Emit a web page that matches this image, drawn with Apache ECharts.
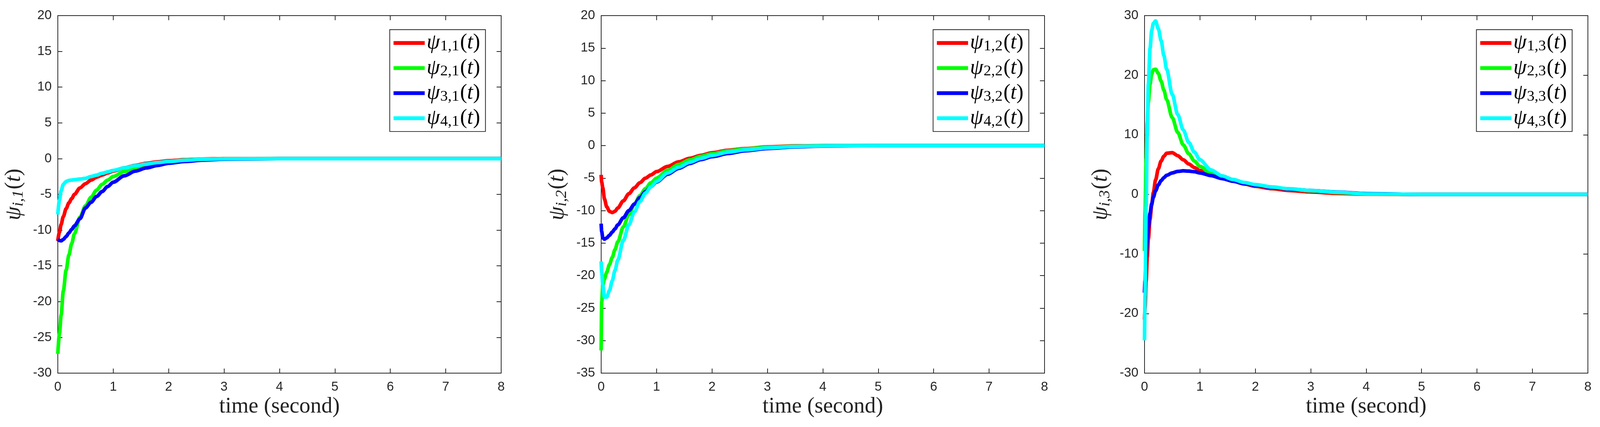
<!DOCTYPE html>
<html>
<head>
<meta charset="utf-8">
<script src="https://cdn.jsdelivr.net/npm/echarts@6/dist/echarts.min.js"></script>
<style>
  html, body { margin: 0; padding: 0; background: #fff; overflow: hidden; width: 100%; height: 100%; }
  #main { width: 100vw; height: 100vh; }
</style>
</head>
<body>
<div id="main"></div>
<script>
'use strict';
// values
var xTicks = [0, 1, 2, 3, 4, 5, 6, 7, 8];

var t1 = [0, 0.03, 0.06, 0.1, 0.15, 0.2, 0.25, 0.3, 0.4, 0.5, 0.6, 0.7, 0.8, 0.9, 1.0, 1.2, 1.4, 1.6, 1.8, 2.0, 2.3, 2.6, 3.0, 4, 5, 6, 7, 8];
var psi11 = [-11.5, -10.3, -9.2, -8.1, -7.0, -6.2, -5.6, -5.0, -4.1, -3.5, -3.0, -2.6, -2.3, -2.0, -1.75, -1.3, -0.95, -0.65, -0.45, -0.3, -0.15, -0.06, 0, 0, 0, 0, 0, 0];
var psi21 = [-27.3, -24.5, -21.9, -18.5, -15.6, -13.5, -11.9, -10.5, -8.2, -6.6, -5.4, -4.4, -3.6, -3.0, -2.5, -1.8, -1.25, -0.9, -0.6, -0.4, -0.2, -0.1, -0.02, 0, 0, 0, 0, 0];
var psi31 = [-11.3, -11.45, -11.5, -11.3, -10.9, -10.4, -9.9, -9.4, -8.4, -6.9, -6.1, -5.3, -4.6, -3.9, -3.3, -2.4, -1.75, -1.3, -0.95, -0.65, -0.4, -0.22, -0.08, 0, 0, 0, 0, 0];
var psi41 = [-7.8, -5.8, -4.5, -3.6, -3.2, -3.05, -3.0, -2.95, -2.85, -2.75, -2.5, -2.3, -2.05, -1.85, -1.65, -1.3, -1.0, -0.75, -0.55, -0.4, -0.22, -0.1, -0.03, 0, 0, 0, 0, 0];

var t2 = [0, 0.01, 0.03, 0.06, 0.1, 0.15, 0.2, 0.25, 0.3, 0.4, 0.5, 0.6, 0.7, 0.8, 0.9, 1.0, 1.2, 1.4, 1.6, 1.8, 2.0, 2.3, 2.6, 3.0, 3.5, 4, 5, 6, 7, 8];
var psi12 = [-4.5, -5.6, -6.5, -8.2, -9.4, -10.1, -10.3, -10.1, -9.6, -8.5, -7.4, -6.5, -5.7, -5.0, -4.5, -4.0, -3.2, -2.5, -1.95, -1.5, -1.1, -0.7, -0.45, -0.2, -0.05, 0, 0, 0, 0, 0];
var psi22 = [-31.5, -24.0, -21.5, -20.5, -19.5, -18.3, -17.2, -16.0, -14.8, -12.5, -10.6, -9.0, -7.7, -6.6, -5.7, -5.0, -3.8, -2.9, -2.2, -1.65, -1.25, -0.8, -0.5, -0.25, -0.1, -0.02, 0, 0, 0, 0];
var psi32 = [-12.0, -13.2, -14.2, -14.4, -14.2, -13.8, -13.3, -12.8, -12.2, -11.1, -10.0, -9.0, -8.0, -7.1, -6.3, -5.6, -4.4, -3.5, -2.75, -2.15, -1.7, -1.2, -0.8, -0.45, -0.2, -0.07, 0, 0, 0, 0];
var psi42 = [-17.8, -19.5, -21.5, -23.3, -23.3, -22.3, -20.8, -19.2, -17.6, -14.6, -12.2, -10.2, -8.6, -7.3, -6.3, -5.5, -4.2, -3.3, -2.55, -1.95, -1.5, -1.0, -0.65, -0.35, -0.13, -0.04, 0, 0, 0, 0];

var t3 = [0, 0.01, 0.03, 0.05, 0.07, 0.1, 0.13, 0.16, 0.2, 0.25, 0.3, 0.35, 0.4, 0.5, 0.6, 0.7, 0.8, 0.9, 1.0, 1.2, 1.4, 1.6, 1.8, 2.0, 2.3, 2.6, 3.0, 3.5, 4, 5, 6, 7, 8];
var psi13 = [-21, -19, -14.5, -10.5, -7.5, -4.2, -1.8, 0.3, 2.4, 4.3, 5.6, 6.4, 6.9, 7.0, 6.5, 5.8, 5.1, 4.5, 4.0, 3.3, 2.7, 2.2, 1.75, 1.35, 0.95, 0.65, 0.4, 0.15, 0.02, 0, 0, 0, 0];
var psi23 = [-9.5, -3, 6, 12, 15.5, 18.5, 20.2, 20.9, 21.0, 20.3, 19.0, 17.5, 15.9, 12.9, 10.4, 8.3, 6.8, 5.6, 4.7, 3.5, 2.8, 2.3, 1.95, 1.6, 1.2, 0.9, 0.6, 0.3, 0.05, 0, 0, 0, 0];
var psi33 = [-16.5, -14.5, -10.5, -7.5, -5.5, -3.2, -1.6, -0.5, 0.6, 1.6, 2.3, 2.8, 3.2, 3.6, 3.85, 3.95, 3.9, 3.8, 3.6, 3.15, 2.65, 2.2, 1.8, 1.5, 1.15, 0.9, 0.65, 0.38, 0.12, 0, 0, 0, 0];
var psi43 = [-24.5, -17, -2, 10, 18.5, 24.5, 27.5, 28.7, 29.1, 27.8, 25.8, 23.3, 21.0, 16.8, 13.4, 10.8, 8.7, 7.1, 5.8, 4.1, 3.1, 2.5, 2.0, 1.65, 1.25, 0.95, 0.65, 0.35, 0.08, 0, 0, 0, 0];

var yMin = [-30, -35, -30];
var yMax = [20, 20, 30];
var yStep = [5, 5, 10];

var colors = ['#ff0000', '#00ff00', '#0000ff', '#00ffff'];
var panels = [
  {t: t1, vals: [psi11, psi21, psi31, psi41], j: 1},
  {t: t2, vals: [psi12, psi22, psi32, psi42], j: 2},
  {t: t3, vals: [psi13, psi23, psi33, psi43], j: 3}
];

var axisColor = '#262626';
var tickFont = 'Liberation Sans, Arial, sans-serif';
var mathFont = 'Liberation Serif, DejaVu Serif, serif';

function zip(t, v) {
  var out = [];
  for (var i = 0; i < t.length; i++) {
    out.push([t[i], v[i]]);
  }
  return out;
}

var chart = echarts.init(document.getElementById('main'), null, {renderer: 'canvas'});

function buildOption() {
  // layout designed on a 4208 x 1094 page, scaled to whatever the page really is
  var W = chart.getWidth(), H = chart.getHeight();
  var sx = W / 4208, sy = H / 1094, f = Math.min(sx, sy);
  var gridLeft = [152, 1581, 3010];
  var gridTop = 40, gridW = 1166, gridH = 916;

  var mathRich = {
    a: {fontFamily: mathFont, fontSize: 56 * f, fontStyle: 'italic', color: '#000'},
    p: {fontFamily: mathFont, fontSize: 56 * f, color: '#000'},
    s: {fontFamily: mathFont, fontSize: 40 * f, color: '#000', verticalAlign: 'bottom', padding: [24 * f, 2 * f, 0, 1 * f]}
  };
  var nameRich = {
    a: {fontFamily: mathFont, fontSize: 58 * f, fontStyle: 'italic', color: '#222'},
    p: {fontFamily: mathFont, fontSize: 58 * f, color: '#222'},
    s: {fontFamily: mathFont, fontSize: 42 * f, color: '#222', fontStyle: 'italic', verticalAlign: 'bottom', padding: [24 * f, 2 * f, 0, 0]}
  };

  var option = {
    backgroundColor: '#fff',
    animation: false,
    grid: [],
    xAxis: [],
    yAxis: [],
    legend: [],
    series: []
  };

  panels.forEach(function(pn, k) {
    option.grid.push({left: gridLeft[k] * sx, top: gridTop * sy, width: gridW * sx, height: gridH * sy});
    var axLine = {show: true, onZero: false, lineStyle: {color: axisColor, width: 2 * f}};
    var tick = {show: true, inside: true, length: 12 * f, lineStyle: {color: axisColor, width: 2 * f}};
    option.xAxis.push({
      type: 'value', gridIndex: k, min: 0, max: 8, interval: 1, position: 'bottom',
      axisLine: axLine, axisTick: tick, splitLine: {show: false},
      axisLabel: {fontFamily: tickFont, fontSize: 34 * f, color: axisColor, margin: 20 * f},
      name: 'time (second)', nameLocation: 'middle', nameGap: 60 * f,
      nameTextStyle: {fontFamily: mathFont, fontSize: 58 * f, color: '#222'}
    });
    option.xAxis.push({
      type: 'value', gridIndex: k, min: 0, max: 8, interval: 1, position: 'top',
      axisLine: axLine, axisTick: tick, splitLine: {show: false}, axisLabel: {show: false}
    });
    option.yAxis.push({
      type: 'value', gridIndex: k, min: yMin[k], max: yMax[k], interval: yStep[k], position: 'left',
      axisLine: axLine, axisTick: tick, splitLine: {show: false},
      axisLabel: {fontFamily: tickFont, fontSize: 34 * f, color: axisColor, margin: 16 * f},
      name: '{a|ψ}{s|i,' + pn.j + '}{p|(}{a|t}{p|)}', nameLocation: 'middle', nameGap: 82 * f,
      nameTextStyle: {rich: nameRich}
    });
    option.yAxis.push({
      type: 'value', gridIndex: k, min: yMin[k], max: yMax[k], interval: yStep[k], position: 'right',
      axisLine: axLine, axisTick: tick, splitLine: {show: false}, axisLabel: {show: false}
    });

    var names = [];
    pn.vals.forEach(function(v, i) {
      var nm = (i + 1) + ',' + pn.j;
      names.push(nm);
      option.series.push({
        name: nm, type: 'line', xAxisIndex: 2 * k, yAxisIndex: 2 * k,
        data: zip(pn.t, v), showSymbol: false, symbol: 'none', smooth: 0.3, smoothMonotone: 'x',
        lineStyle: {color: colors[i], width: 9.5 * f}, itemStyle: {color: colors[i]},
        clip: true, z: 2 + i
      });
    });

    option.legend.push({
      data: names, orient: 'vertical', left: (gridLeft[k] + 873) * sx, top: 76 * sy,
      icon: 'rect', itemWidth: 82 * f, itemHeight: 10 * f, itemGap: 8 * f,
      borderColor: axisColor, borderWidth: 2 * f, padding: [6 * f, 14 * f, 6 * f, 10 * f],
      backgroundColor: '#fff', selectedMode: false,
      formatter: function(name) {
        return '{a|ψ}{s|' + name + '}{p|(}{a|t}{p|)}';
      },
      textStyle: {rich: mathRich, lineHeight: 58 * f}
    });
  });
  return option;
}

chart.setOption(buildOption());
window.addEventListener('resize', function() {
  chart.resize();
  chart.setOption(buildOption(), true);
});
</script>
</body>
</html>
